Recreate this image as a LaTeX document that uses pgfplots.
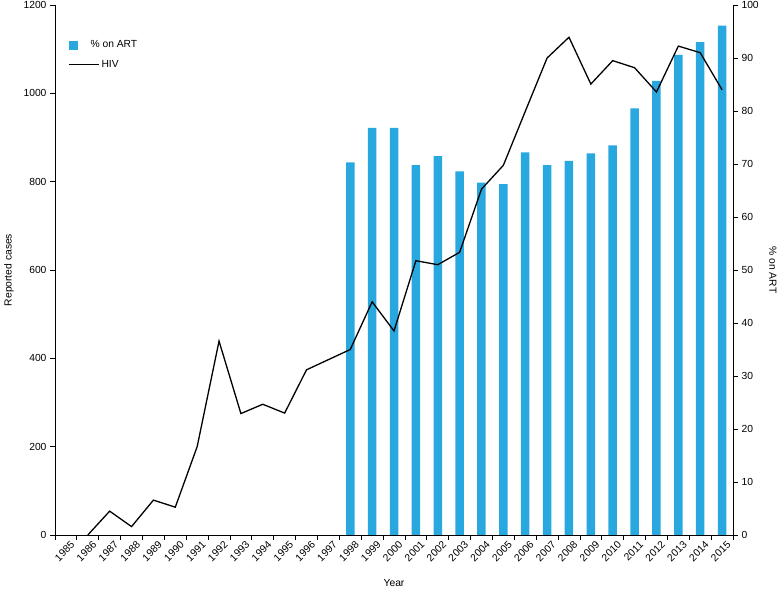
\documentclass[border=0pt]{standalone}
\usepackage{fontspec}
\setmainfont{Liberation Sans}
\usepackage{pgfplots}
\pgfplotsset{compat=1.18}
\definecolor{artblue}{HTML}{29A8E0}
\begin{document}
\begin{tikzpicture}[font=\fontsize{10.3}{12.5}\selectfont]
\useasboundingbox (-55pt,-54pt) rectangle (726pt,535pt);
\pgfplotsset{
  common/.style={
    scale only axis, width=678pt, height=530pt, at={(0pt,0pt)}, anchor=south west,
    xmin=1984.5, xmax=2015.5, ymin=0,
    tick align=outside, major tick length=5pt, minor tick length=5pt,
    axis line style={-, black, line width=0.8pt},
    tick style={black, line width=0.8pt},
    /pgf/number format/1000 sep={}, /pgf/number format/assume math mode=true,
    tick label style={font=\fontsize{10.3}{12.5}\selectfont},
    label style={font=\fontsize{10.3}{12.5}\selectfont},
  }
}
\begin{axis}[common, ymax=100, axis y line*=right, axis x line=none,
  ytick={0,10,...,100},
  ylabel={\% on ART},
  ylabel style={at={(axis description cs:1.059,0.5)}, anchor=center, rotate=180}]
\addplot[ybar, bar width=8.5pt, bar shift=0pt, fill=artblue, draw=none] coordinates {
(1998,70.3) (1999,76.8) (2000,76.8) (2001,69.8) (2002,71.5) (2003,68.6)
(2004,66.5) (2005,66.2) (2006,72.2) (2007,69.8) (2008,70.6) (2009,72.0)
(2010,73.5) (2011,80.5) (2012,85.7) (2013,90.6) (2014,93.0) (2015,96.1)};
\end{axis}
\begin{axis}[common, ymax=1200, axis y line*=left, axis x line*=bottom,
  ytick={0,200,...,1200},
  xtick={1985,...,2015},
  minor xtick={1984.5,1985.5,...,2015.5},
  major x tick style={draw=none},
  xticklabel style={rotate=45, anchor=north east, xshift=6pt, yshift=0pt},
  xlabel={Year},
  xlabel style={at={(axis description cs:0.5,-0.0906)}, anchor=center},
  ylabel={Reported cases},
  ylabel style={at={(axis description cs:-0.068,0.5)}, anchor=center},
  legend style={draw=none, fill=none, at={(0.0148,0.941)}, anchor=north west,
    row sep=7pt, font=\fontsize{10.3}{12.5}\selectfont},
  legend cell align=left]
\addlegendimage{legend image code/.code={\fill[artblue] (0pt,-4pt) rectangle (8pt,4pt); \path[draw=none,fill=none] (0pt,0pt) -- (30pt,0pt);}}
\addlegendentry{\hspace*{-11pt}\% on ART}
\addplot[black, line width=1.3pt, legend image code/.code={\draw[black, line width=1.3pt] (0pt,0pt) -- (30pt,0pt);}] coordinates {
(1986,0) (1987,54) (1988,19) (1989,79) (1990,63) (1991,200) (1992,439)
(1993,275) (1994,296) (1995,276) (1996,374) (1997,397) (1998,420)
(1999,528) (2000,462) (2001,621) (2002,612) (2003,640) (2004,783)
(2005,837) (2006,959) (2007,1080) (2008,1127) (2009,1021) (2010,1074)
(2011,1058) (2012,1003) (2013,1107) (2014,1092) (2015,1008)};
\addlegendentry{HIV}
\end{axis}
\end{tikzpicture}
\end{document}
